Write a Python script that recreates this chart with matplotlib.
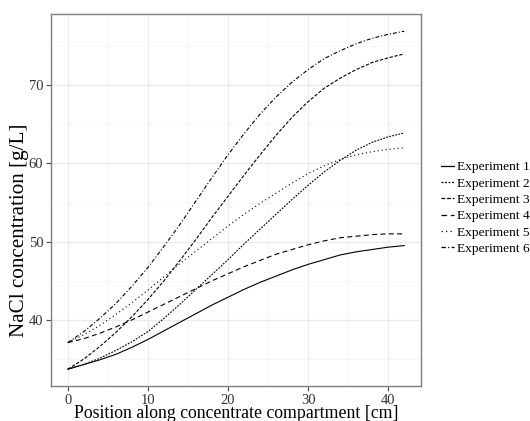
import numpy as np
import matplotlib
matplotlib.use("Agg")
import matplotlib.pyplot as plt

# Data (position in cm, NaCl in g/L)
position = [0, 2, 4, 6, 8, 10, 12, 14, 16, 18, 20, 22, 24, 26, 28, 30, 32, 34, 36, 38, 40, 42]

exp1 = [33.7, 34.3, 34.9, 35.6, 36.5, 37.5, 38.6, 39.7, 40.8, 41.9, 42.9,
        43.9, 44.8, 45.6, 46.4, 47.1, 47.7, 48.3, 48.7, 49.0, 49.3, 49.5]
exp2 = [33.7, 34.3, 35.1, 36.1, 37.2, 38.5, 40.2, 42.0, 43.9, 45.8, 47.7,
        49.7, 51.6, 53.5, 55.4, 57.2, 58.9, 60.4, 61.7, 62.7, 63.4, 63.9]
exp3 = [33.7, 35.0, 36.6, 38.4, 40.4, 42.6, 45.0, 47.6, 50.3, 53.1, 55.8,
        58.5, 61.1, 63.6, 65.9, 67.9, 69.6, 70.9, 72.0, 72.9, 73.5, 74.0]
exp4 = [37.1, 37.6, 38.3, 39.1, 40.0, 41.0, 42.0, 43.0, 44.0, 45.0, 45.9,
        46.8, 47.6, 48.4, 49.0, 49.6, 50.1, 50.5, 50.7, 50.9, 51.0, 51.0]
exp5 = [37.1, 38.1, 39.3, 40.7, 42.2, 43.8, 45.5, 47.2, 48.8, 50.4, 52.0,
        53.5, 54.9, 56.2, 57.5, 58.7, 59.7, 60.5, 61.1, 61.5, 61.8, 62.0]
exp6 = [37.1, 38.5, 40.2, 42.1, 44.3, 46.7, 49.4, 52.2, 55.2, 58.2, 61.1,
        63.8, 66.3, 68.5, 70.4, 72.0, 73.4, 74.4, 75.3, 76.0, 76.5, 76.9]

labels = ["Experiment 1", "Experiment 2", "Experiment 3",
          "Experiment 4", "Experiment 5", "Experiment 6"]
series = [exp1, exp2, exp3, exp4, exp5, exp6]

# line styles roughly like the ggplot linetypes in the picture
styles = ["-", (0, (1.6, 1.2)), (0, (3, 1.5)), (0, (4.5, 3)),
          (0, (1, 2.6)), (0, (3.5, 1.8, 1, 1.8))]

plt.rcParams["font.family"] = ["Liberation Serif", "DejaVu Serif"]

fig = plt.figure(figsize=(5.3, 4.21), dpi=100)
ax = fig.add_axes([0.0962, 0.0831, 0.6982, 0.8836])

for y, lab, ls in zip(series, labels, styles):
    ax.plot(position, y, color="black", lw=0.8, linestyle=ls, label=lab)

ax.set_xlim(-2.1, 44.1)
ax.set_ylim(31.55, 79.1)
ax.set_xticks([0, 10, 20, 30, 40])
ax.set_yticks([40, 50, 60, 70])
ax.set_xticks([5, 15, 25, 35], minor=True)
ax.set_yticks([35, 45, 55, 65, 75], minor=True)

ax.grid(which="major", color="#ebebeb", lw=1.0)
ax.grid(which="minor", color="#f5f5f5", lw=0.6)
ax.set_axisbelow(True)

for sp in ax.spines.values():
    sp.set_color("#7f7f7f")
    sp.set_linewidth(1.0)

ax.tick_params(which="major", direction="out", length=3.5, width=0.8,
               color="#4d4d4d", labelsize=10.5, labelcolor="#333333", pad=2)
ax.tick_params(which="minor", length=0)

ax.set_xlabel("Position along concentrate compartment [cm]", fontsize=12.8,
              labelpad=-1)
ax.set_ylabel("NaCl concentration [g/L]", fontsize=15.2, va="center")
ax.yaxis.set_label_coords(-0.085, 0.42)

leg = fig.legend(loc="center left", bbox_to_anchor=(0.8315, 0.506),
                 frameon=False, fontsize=9.6, handlelength=1.0,
                 handletextpad=0.2, labelspacing=0.3, borderpad=0,
                 borderaxespad=0)
for h in leg.get_lines():
    h.set_linewidth(0.9)

fig.savefig("out.png", dpi=100)
